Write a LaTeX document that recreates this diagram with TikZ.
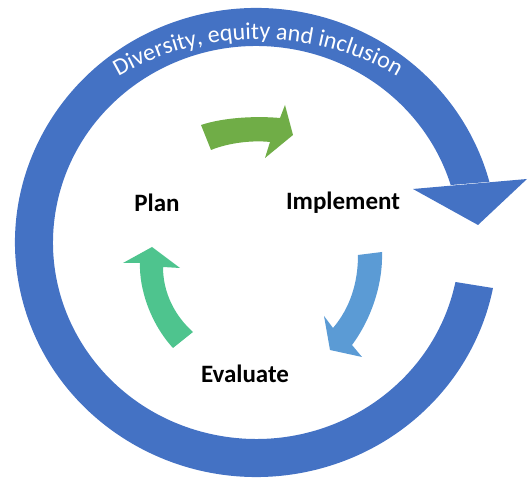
\documentclass[tikz,border=0pt]{standalone}
\usepackage{fontspec}
\newfontfamily\carlito{Carlito}
\usetikzlibrary{decorations.text}
\definecolor{ringblue}{HTML}{4472C4}
\definecolor{arrgreen}{HTML}{70AD47}
\definecolor{arrblue}{HTML}{5B9BD5}
\definecolor{arrteal}{HTML}{4EC48E}
\begin{document}
\begin{tikzpicture}[x=1pt,y=1pt,
  lab/.style={font=\carlito\bfseries\fontsize{25}{30}\selectfont, inner sep=0pt, anchor=base, text=black},
  shapefill/.style={draw=none}]
\useasboundingbox (0,0) rectangle (531,478);
\coordinate (c) at (256.3,235.5);
% big ring
\fill[ringblue] ([shift={(c)}]15:241.3 and 234.5)
  arc[start angle=15,end angle=348.8,x radius=241.3,y radius=234.5]
  -- ([shift={(c)}]348.4:203.3 and 196.5)
  arc[start angle=348.4,end angle=17,x radius=203.3,y radius=196.5] -- cycle;
\fill[ringblue] (413,289) -- (527,299) -- (478,253) -- cycle;
% ring text
\path[decorate, decoration={text along path, text align=center, text color=white,
  text={|\carlito\fontsize{24}{29}\selectfont|Diversity, equity and inclusion}}]
  ([shift={(258,161)}]126:278) arc[start angle=126, end angle=54, radius=278];
% green arrow
\fill[arrgreen, shapefill] (201,353) .. controls (225,361) and (258,362) .. (280,360)
  -- (285,373) -- (293,343) -- (265,320) -- (270,336)
  .. controls (252,338) and (228,335) .. (211,328) -- cycle;
% blue arrow
\fill[arrblue, shapefill] (358,223) -- (382,226) .. controls (383,195) and (372,160) .. (352,133)
  -- (362,121) -- (330,128) -- (324,162) -- (333,150)
  .. controls (350,170) and (358,195) .. (358,223) -- cycle;
% teal arrow
\fill[arrteal, shapefill] (152,231) -- (180,210) -- (163,211)
  .. controls (163,185) and (175,162) .. (193,146) -- (173,130)
  .. controls (150,155) and (139,190) .. (140,215) -- (123,215) -- cycle;
% labels
\node[lab] (plan) at (157,266) {Plan};
\node[lab] (impl) at (343,268) {Implement};
\node[lab] (eval) at (245,95) {Evaluate};
\end{tikzpicture}
\end{document}
